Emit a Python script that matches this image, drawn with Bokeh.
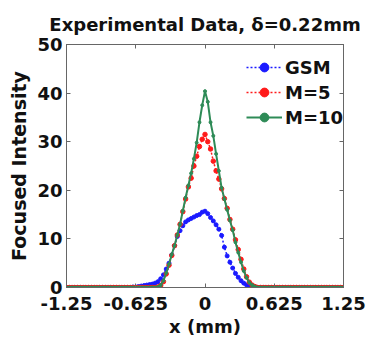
from bokeh.plotting import figure
from bokeh.models import FixedTicker, LinearAxis, Range1d
from bokeh.embed import file_html
from bokeh.resources import INLINE

TITLE = "Experimental Data, \u03b4=0.22mm"
X_LABEL = "x (mm)"
Y_LABEL = "Focused Intensity"
X_TICKS = [-1.25, -0.625, 0, 0.625, 1.25]
X_TICK_LABELS = ["-1.25", "-0.625", "0", "0.625", "1.25"]
Y_TICKS = [0, 10, 20, 30, 40, 50]

X = [round(-1.25 + 0.025 * i, 4) for i in range(101)]

GSM = [0.0] * 24 + [
    0.1, 0.1, 0.2, 0.3, 0.4, 0.5, 0.6, 0.7, 0.9, 1.2,
    1.8, 2.6, 3.8, 5.0, 6.7, 8.6, 10.5, 11.7, 12.7, 13.5,
    13.9, 14.2, 14.5, 14.8, 15.0, 15.5, 15.7, 15.2, 14.4, 13.7,
    12.9, 12.0, 10.7, 8.3, 6.5, 5.2, 4.0, 2.9, 2.1, 1.4,
    0.9, 0.5, 0.3, 0.1, 0.0] + [0.0] * 32

M5 = [0.0] * 32 + [
    0.0, 0.1, 0.4, 1.2, 2.8, 4.6, 6.6, 8.6, 10.8, 13.0,
    15.6, 18.2, 20.7, 22.5, 25.0, 27.0, 29.0, 30.5, 31.5, 30.0,
    28.5, 26.0, 24.0, 22.3, 20.3, 18.3, 16.3, 14.0, 12.0, 9.8,
    7.8, 5.8, 3.8, 2.2, 1.1, 0.5, 0.2, 0.0] + [0.0] * 31

M10 = [0.0] * 32 + [
    0.0, 0.1, 0.5, 1.4, 3.0, 4.8, 6.8, 8.6, 10.8, 13.0,
    15.8, 18.5, 21.0, 23.5, 26.5, 29.8, 34.0, 37.5, 40.4, 38.2,
    34.0, 31.2, 27.5, 24.0, 20.5, 18.2, 16.0, 13.8, 11.8, 9.3,
    7.2, 5.2, 3.4, 2.0, 1.0, 0.5, 0.2, 0.0] + [0.0] * 31

FONT = "DejaVu Sans"
FS = "18px"
AXIS_COLOR = "#666666"

p = figure(frame_width=277, frame_height=243, output_backend="svg", toolbar_location=None,
           x_range=Range1d(-1.25, 1.25), y_range=Range1d(0, 50),
           min_border_left=66, min_border_right=24, min_border_top=44, min_border_bottom=53)
p.title.text = TITLE
p.title.align = "center"
p.title.text_font = FONT
p.title.text_font_size = FS
p.title.text_font_style = "bold"
p.title.text_color = "#111111"
p.title.standoff = 19

p.grid.visible = False
p.outline_line_color = AXIS_COLOR
p.background_fill_color = "white"
p.border_fill_color = "white"

for ax in (p.xaxis[0], p.yaxis[0]):
    ax.major_label_text_font = FONT
    ax.major_label_text_font_size = FS
    ax.major_label_text_font_style = "bold"
    ax.major_label_text_color = "#111111"
    ax.axis_label_text_font = FONT
    ax.axis_label_text_font_size = FS
    ax.axis_label_text_font_style = "bold"
    ax.axis_label_text_color = "#111111"
    ax.major_tick_in = 4
    ax.major_tick_out = 0
    ax.minor_tick_line_color = None
    ax.axis_line_color = AXIS_COLOR
    ax.major_tick_line_color = AXIS_COLOR

p.yaxis.axis_label_text_font_size = "19px"
p.xaxis.major_label_standoff = 9
p.xaxis.axis_label_standoff = 3
p.yaxis.major_label_standoff = 4
p.yaxis.axis_label_standoff = 4

p.xaxis.ticker = FixedTicker(ticks=X_TICKS)
p.xaxis.major_label_overrides = {t: l for t, l in zip(X_TICKS, X_TICK_LABELS)}
p.yaxis.ticker = FixedTicker(ticks=Y_TICKS)
p.xaxis.axis_label = X_LABEL
p.yaxis.axis_label = Y_LABEL

top = LinearAxis(ticker=FixedTicker(ticks=X_TICKS), major_label_text_font_size="1px",
                 major_label_text_color=None,
                 major_tick_in=4, major_tick_out=0, minor_tick_line_color=None,
                 axis_line_color=AXIS_COLOR, major_tick_line_color=AXIS_COLOR,
                 major_label_standoff=0)
right = LinearAxis(ticker=FixedTicker(ticks=Y_TICKS), major_label_text_font_size="1px",
                   major_label_text_color=None,
                   major_tick_in=4, major_tick_out=0, minor_tick_line_color=None,
                   axis_line_color=AXIS_COLOR, major_tick_line_color=AXIS_COLOR,
                   major_label_standoff=0)
p.add_layout(top, "above")
p.add_layout(right, "right")

BLUE = "#1a1aff"
RED = "#ff1a1a"
GREEN = "#2e8b57"

p.line(X, GSM, color=BLUE, line_width=1.5, line_dash="2 2", legend_label="GSM")
p.scatter(X, GSM, color=BLUE, size=4, legend_label="GSM")
p.line(X, M5, color=RED, line_width=1.5, line_dash="2 2", legend_label="M=5")
p.scatter(X, M5, color=RED, size=4.5, legend_label="M=5")
p.line(X, M10, color=GREEN, line_width=2, legend_label="M=10")
p.scatter(X, M10, color=GREEN, size=3, legend_label="M=10")

lg = p.legend[0]
lg.location = (180, 159)
lg.background_fill_alpha = 0
lg.border_line_color = None
lg.label_text_font = FONT
lg.label_text_font_size = FS
lg.label_text_font_style = "bold"
lg.label_text_color = "#111111"
lg.glyph_width = 36
lg.label_standoff = 3
lg.spacing = 3
lg.padding = 2
lg.margin = 0
lg.label_height = 22
lg.glyph_height = 22

open("out.html", "w").write(file_html(p, INLINE))
